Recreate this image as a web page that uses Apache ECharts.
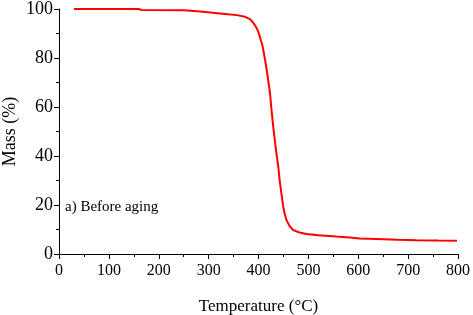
<!DOCTYPE html>
<html>
<head>
<meta charset="utf-8">
<script src="https://cdn.jsdelivr.net/npm/echarts@6/dist/echarts.min.js"></script>
<style>html,body{margin:0;padding:0;background:#fff}#c{width:473px;height:315px}</style>
</head>
<body>
<div id="c"></div>
<script>
var temperature = [30,160,165,250,283,313,333,357,373,383,389,394,399,403,408,413,418,423,426,429.5,433,436,440,443,446.5,449.5,453,456,462,469.5,480,496,520,556,583,603,637,680,717,760,798];
var mass = [100,100,99.6,99.5,99,98.4,98,97.5,96.8,95.9,94.5,93,91,88.5,85,79.5,73,65.8,59,52,46,41,35,29,24,19.4,16,13.9,11.5,9.8,8.9,8.2,7.7,7.1,6.7,6.3,6.1,5.8,5.6,5.5,5.45];
var xTicks = [0,100,200,300,400,500,600,700,800];
var yTicks = [0,20,40,60,80,100];
var annotation = 'a) Before aging';

var chart = echarts.init(document.getElementById('c'));
var data = temperature.map(function(t,i){return [t, mass[i]];});
var font = '"Liberation Serif","Times New Roman",serif';
chart.setOption({
  animation:false,
  backgroundColor:'#fff',
  grid:{left:59,right:15,top:9,bottom:61,containLabel:false,outerBoundsMode:'none'},
  xAxis:{
    type:'value',min:xTicks[0],max:xTicks[xTicks.length-1],interval:100,
    name:'Temperature (°C)',nameLocation:'middle',nameGap:44,nameMoveOverlap:false,
    nameTextStyle:{fontFamily:font,fontSize:17,color:'#000'},
    axisLine:{lineStyle:{color:'#000',width:1}},
    axisTick:{inside:false,length:5,lineStyle:{color:'#000'}},
    minorTick:{show:true,splitNumber:2,length:3,lineStyle:{color:'#000'}},
    splitLine:{show:false},
    axisLabel:{fontFamily:font,fontSize:16,color:'#000',margin:9}
  },
  yAxis:{
    type:'value',min:yTicks[0],max:yTicks[yTicks.length-1],interval:20,
    name:'Mass (%)',nameLocation:'middle',nameGap:40,nameMoveOverlap:false,
    nameTextStyle:{fontFamily:font,fontSize:18,color:'#000'},
    axisLine:{show:true,lineStyle:{color:'#000',width:1}},
    axisTick:{show:true,inside:false,length:5,lineStyle:{color:'#000'}},
    minorTick:{show:true,splitNumber:2,length:3,lineStyle:{color:'#000'}},
    splitLine:{show:false},
    axisLabel:{fontFamily:font,fontSize:18,color:'#000',margin:6}
  },
  graphic:[{type:'text',left:65,top:200,style:{text:annotation,font:'15px '+font,fill:'#000'}}],
  series:[{type:'line',data:data,showSymbol:false,smooth:false,lineStyle:{color:'#ff0000',width:2},itemStyle:{color:'#ff0000'}}]
});
</script>
</body>
</html>
